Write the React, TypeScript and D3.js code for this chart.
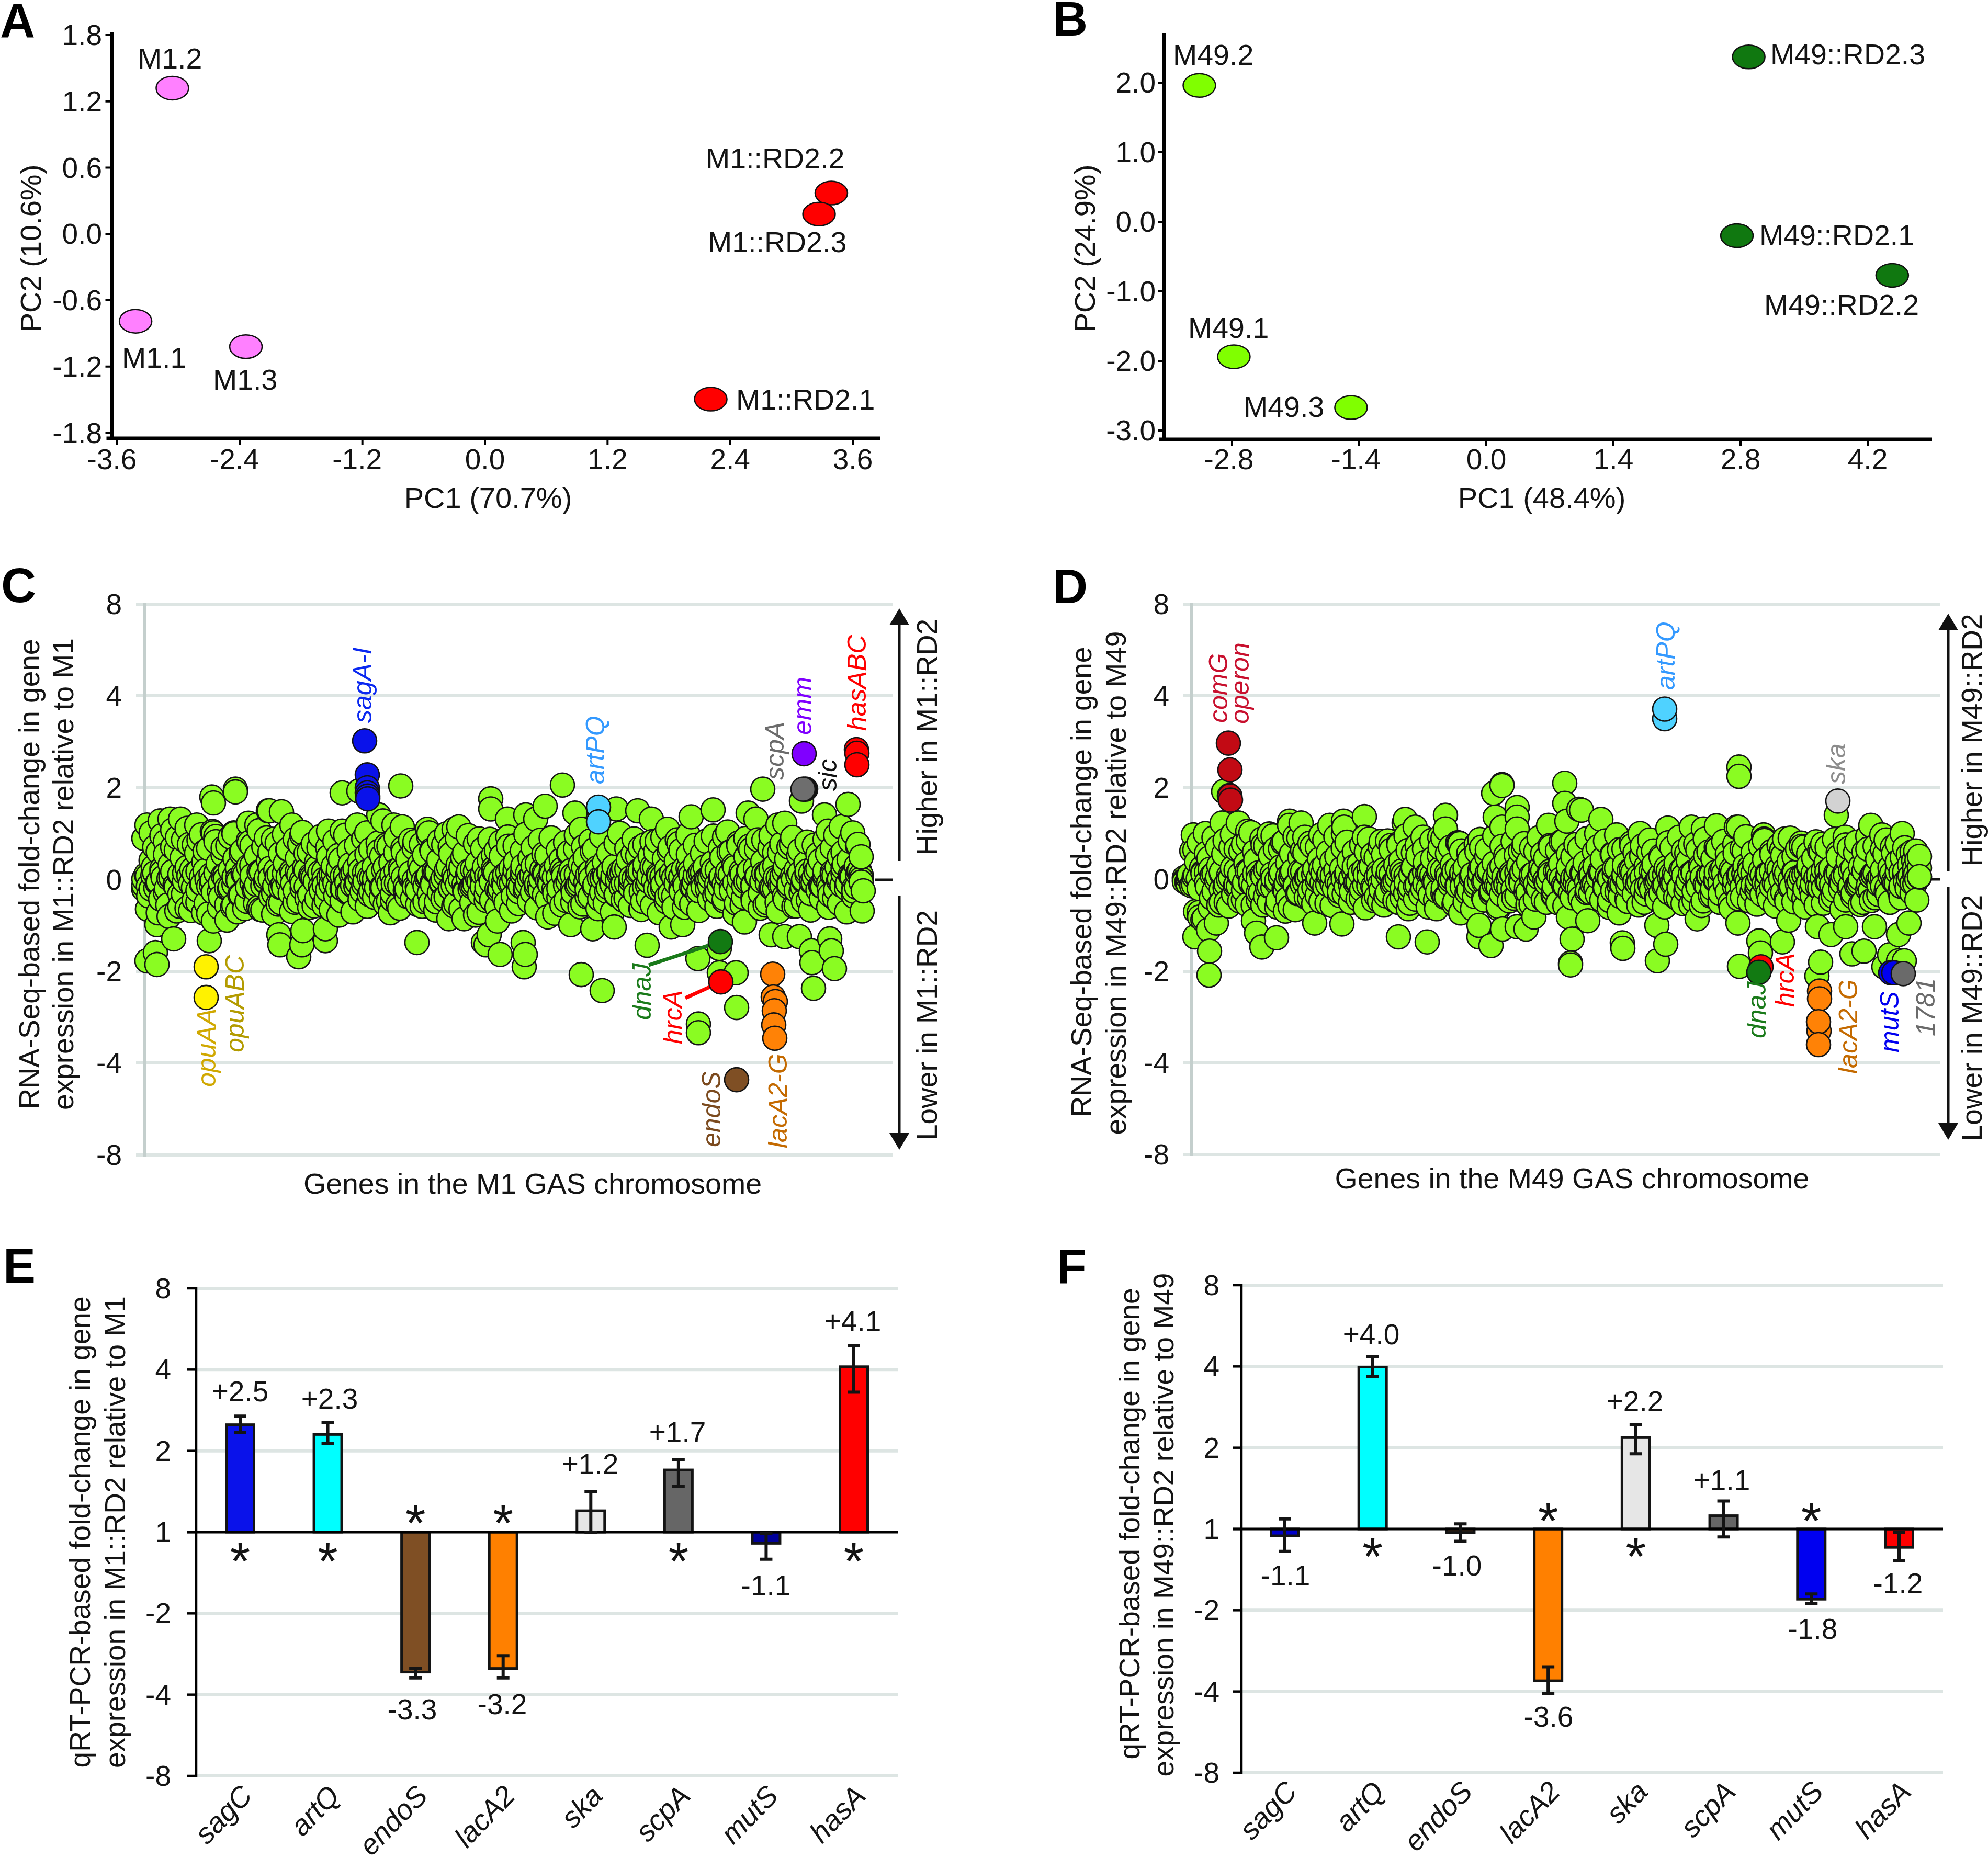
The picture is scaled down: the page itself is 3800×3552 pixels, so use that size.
import React from "react";
import * as d3 from "d3";

// ---------- PCA data (panel A, B) ----------
const pcaANames = ["M1.1", "M1.2", "M1.3", "M1::RD2.1", "M1::RD2.2", "M1::RD2.3"];
const pcaAPc1 = [-3.42, -3.06, -2.34, 2.21, 3.39, 3.27];
const pcaAPc2 = [-0.79, 1.32, -1.02, -1.495, 0.37, 0.18];
const pcaBNames = ["M49.1", "M49.2", "M49.3", "M49::RD2.1", "M49::RD2.2", "M49::RD2.3"];
const pcaBPc1 = [-2.78, -3.16, -1.49, 2.76, 4.47, 2.89];
const pcaBPc2 = [-1.94, 1.96, -2.67, -0.2, -0.77, 2.37];
const ticksAx = [-3.6, -2.4, -1.2, 0, 1.2, 2.4, 3.6];
const ticksAy = [-1.8, -1.2, -0.6, 0, 0.6, 1.2, 1.8];
const ticksBx = [-2.8, -1.4, 0, 1.4, 2.8, 4.2];
const ticksBy = [-3, -2, -1, 0, 1, 2];

// ---------- RNA-Seq data (panel C): band values in chromosome order ----------
const bandC = [
  -0.21,0.12,-0.35,0.42,0.28,-0.18,0.61,-0.42,0.05,0.83,-0.55,0.33,0.71,-0.12,0.92,-0.31,0.48,0.15,-0.62,0.77,
  0.22,-0.44,0.58,0.86,-0.08,0.39,-0.51,0.68,0.11,-0.27,0.94,0.35,-0.38,0.55,0.02,0.74,-0.16,-0.59,0.46,0.25,
  -0.33,0.63,0.09,-0.47,0.81,0.31,-0.22,0.52,-0.6,0.17,0.72,-0.05,0.41,-0.36,0.88,0.2,-0.53,0.57,-0.11,0.36,
  0.66,-0.29,0.13,-0.49,0.47,0.78,-0.19,0.27,-0.4,0.6,0.07,-0.57,0.38,0.7,-0.24,0.18,-0.43,0.5,-0.1,0.3,
  -0.34,0.14,0.44,-0.2,0.08,-0.28,0.33,-0.12,0.24,-0.06,0.4,-0.25,0.16,0.55,-0.32,0.04,0.28,-0.17,0.62,-0.39,
  0.21,0.75,-0.46,0.37,-0.09,0.59,-0.54,0.26,0.69,-0.23,0.45,0.1,-0.41,0.83,-0.15,0.34,-0.58,0.54,0.03,-0.3,
  0.65,0.19,-0.48,0.43,-0.07,0.76,-0.37,0.29,0.56,-0.13,-0.52,0.32,0.01,0.49,-0.26,0.12,-0.2,0.23,-0.09,0.36,
  -0.31,0.06,0.28,-0.16,0.42,-0.44,0.18,0.64,-0.24,0.51,-0.05,-0.5,0.73,0.25,-0.35,0.39,0.09,-0.14,0.3,-0.22,
  0.15,0.47,-0.27,0.02,0.35,-0.11,0.22,-0.33,0.53,-0.04,0.13,-0.19,0.31,-0.38,0.44,0.08,-0.45,0.58,0.2,-0.28,
  0.67,-0.1,0.34,-0.53,0.48,0.11,-0.36,0.61,-0.17,0.26,-0.42,0.04,0.38,-0.25,0.17,-0.07,0.29,-0.32,0.12,-0.15,
  0.24,-0.4,0.43,-0.02,0.57,-0.3,0.19,0.7,-0.47,0.33,-0.12,0.52,-0.56,0.27,0.84,-0.21,0.06,0.46,-0.37,0.63,
  0.14,-0.6,0.41,0.79,-0.26,0.23,-0.43,0.55,0.1,-0.16,0.35,-0.31,0.16,-0.08,0.28,-0.2,0.05,0.37,-0.34,0.21,
  -0.13,0.48,-0.41,0.09,0.6,-0.24,0.32,-0.51,0.74,0.18,-0.38,0.5,-0.03,0.66,-0.46,0.25,0.87,-0.29,0.4,-0.55,
  0.13,0.69,-0.18,0.3,-0.49,0.59,0.07,-0.35,0.45,-0.1,0.77,-0.58,0.22,0.53,-0.27,0.01,0.36,-0.44,0.15,-0.06,
  0.31,-0.22,0.42,-0.15,0.2,0.56,-0.33,0.11,-0.4,0.27,0.5,-0.12,0.34,-0.19,0.44,0.08,-0.25,0.3,0.18,-0.05,
];
const bandC2 = [
  .9,-.64,1.02,.71,-.72,.96,.55,-.8,1.08,.64,-.58,.87,1.12,-.67,.76,-.49,.98,.62,-.74,1.05,
  .83,-.61,.69,-.55,.93,1.0,-.7,.58,-.63,.85,.74,-.52,1.07,-.66,.91,.6,-.75,.8,-.5,.99,
  .67,-.69,.88,-.47,1.03,.57,-.6,.78,-.41,.94,-.56,.7,-.65,.84,.53,-.46,.97,.63,-.7,.75,
  -.43,.89,-.58,.66,-.38,.8,.51,-.53,.73,-.44,.92,-.62,.6,-.36,.86,.69,-.54,.77,-.48,.95,
  .62,-.66,.84,-.42,1.0,.71,-.57,.9,-.64,.58,.96,-.5,.78,-.71,.67,-.45,.88,.54,-.6,.82,
  -.39,.93,-.68,.74,-.52,.63,.99,-.47,.7,-.61,.86,.56,-.43,.91,-.73,.65,-.55,.81,.6,-.49,
  .97,-.59,.72,-.37,.85,.66,-.63,.94,-.51,.58,-.7,.79,1.01,-.44,.68,-.56,.89,.52,-.65,.76,
  -.4,.83,.61,-.72,.92,-.48,.7,-.35,.87,.64,-.6,.98,-.53,.75,-.67,.57,.84,-.42,.95,-.58,
  .69,-.46,1.04,.62,-.74,.8,-.55,.9,.73,-.38,.66,-.62,.86,-.5,.96,.59,-.69,.78,-.43,.71,
  .92,-.57,.64,-.47,.82,-.66,.75,.55,-.41,.88,-.6,.69,.97,-.52,.6,-.7,.84,-.36,.74,.5,
];
const bandC3 = [
  -.12,.08,-.2,.15,-.05,.24,-.28,.03,.18,-.16,.1,-.31,.27,-.08,.13,-.23,.06,.2,-.14,-.02,
  .16,-.26,.09,-.18,.22,-.1,.02,-.33,.12,.29,-.06,-.21,.17,-.13,.05,.25,-.29,.07,-.17,.14,
  -.04,.19,-.24,.11,-.09,.21,-.32,.04,.26,-.15,.01,-.22,.13,-.07,.23,-.19,.1,-.27,.16,-.03,
  .07,-.11,.18,-.25,.02,.12,-.16,.28,-.08,-.3,.2,-.12,.06,-.2,.15,-.01,-.23,.24,-.14,.09,
  -.06,.17,-.28,.03,.22,-.18,.11,-.1,.27,-.24,.05,-.15,.19,-.04,.13,-.31,.08,.25,-.2,.01,
  -.13,.16,-.07,.21,-.26,.1,-.17,.04,.3,-.09,-.22,.14,-.02,.18,-.29,.06,.23,-.12,.09,-.19,
  .12,-.05,.26,-.21,.03,-.14,.2,-.27,.07,.15,-.11,-.33,.17,-.08,.24,-.16,.02,.11,-.25,.19,
  -.03,.28,-.18,.08,-.1,.22,-.3,.05,.13,-.2,-.06,.25,-.15,.1,-.24,.16,.01,-.12,.21,-.28,
  .04,-.09,.18,-.17,.27,-.22,.12,-.04,.2,-.13,.07,-.26,.14,-.07,.23,-.19,.03,-.11,.29,-.16,
  .09,-.23,.15,-.02,.19,-.3,.06,.24,-.14,.11,-.08,.17,-.21,.02,.26,-.12,.1,-.18,.13,-.05,
];
const bandC4 = [
  .02,-.14,.1,-.07,.16,-.19,.05,-.11,.13,-.03,.08,-.17,.18,-.09,.01,-.12,.15,-.06,.11,-.2,
  .06,-.02,.14,-.16,.09,-.1,.19,-.05,.03,-.13,.12,-.18,.07,-.08,.17,-.01,-.15,.1,-.04,.16,
  -.12,.04,.13,-.19,.08,-.06,.11,-.14,.2,-.03,.05,-.1,.15,-.17,.02,.09,-.07,.18,-.13,.06,
  -.16,.12,-.02,.07,-.11,.17,-.05,.1,-.18,.03,.14,-.09,.19,-.12,.01,-.15,.08,-.04,.16,-.2,
  .11,-.06,.04,-.13,.18,-.08,.09,-.16,.02,.13,-.1,.06,-.19,.15,-.03,.1,-.14,.07,-.05,.17,
  -.11,.03,.12,-.17,.08,-.01,.16,-.07,.05,-.12,.19,-.15,.09,-.02,.11,-.18,.04,.14,-.08,.06,
  -.13,.18,-.04,.1,-.16,.02,.15,-.09,.07,-.2,.12,-.06,.03,-.14,.17,-.1,.08,-.03,.13,-.17,
  .05,-.11,.16,-.07,.01,.09,-.15,.12,-.05,.18,-.12,.04,-.19,.1,-.02,.14,-.08,.06,-.16,.11,
];
// Outer dots of panel C: [chromosome order, value]
const upperC: [number, number][] = [
  [6,1.19],[31,1.28],[50,1.32],[70,1.32],[101,1.19],[130,1.8],[133,1.67],[133,1.02],[172,1.02],[175,1.97],[175,1.91],
  [200,1.23],[216,1.19],[238,1.5],[240,1.5],[263,1.48],[283,1.19],[302,0.97],[353,1.06],[379,1.89],[379,1.06],[408,1.19],
  [411,1.93],[426,1.02],[449,1.41],[457,1.28],[478,1.19],[491,2.04],[494,1.15],[542,1.1],[545,1.02],[593,1.1],[602,1.15],
  [641,0.89],[663,1.76],[663,1.54],[695,1.32],[730,1.41],[749,1.32],[767,1.6],[800,2.06],[824,1.45],[836,1.1],[903,1.54],
  [944,1.5],[970,1.32],[1001,1.1],[1046,1.37],[1088,1.52],[1110,0.93],[1155,1.45],[1170,1.32],[1183,1.97],[1212,1.19],
  [1225,1.23],[1257,1.71],[1301,1.41],[1308,1.06],[1333,1.15],[1346,1.64],[1355,1.02],[1365,0.77],[1368,0.2],[1371,0.02],
];
const lowerC: [number, number][] = [
  [6,-1.77],[25,-1.85],[22,-1.59],[25,-0.98],[57,-1.29],[63,-0.68],[114,-0.72],[125,-1.33],[133,-0.9],[159,-0.88],[172,-0.55],
  [223,-0.65],[258,-1.2],[260,-1.42],[296,-1.68],[304,-1.11],[302,-1.42],[347,-1.33],[347,-1.07],[373,-0.77],[427,-0.55],
  [471,-0.72],[522,-1.37],[548,-0.5],[583,-0.85],[612,-0.85],[634,-0.77],[649,-1.37],[654,-1.42],[660,-1.2],[676,-0.9],
  [681,-1.63],[725,-1.37],[727,-1.9],[729,-1.63],[772,-0.81],[816,-0.98],[836,-2.07],[858,-1.07],[876,-2.42],[899,-1.03],
  [950,-0.63],[962,-1.43],[1008,-1.03],[1030,-0.98],[1059,-1.72],[1060,-3.15],[1060,-3.34],[1100,-1.5],[1100,-2.03],
  [1132,-2.03],[1133,-2.79],[1148,-0.92],[1199,-1.2],[1225,-1.24],[1253,-1.24],[1276,-1.55],[1277,-1.81],[1280,-2.37],
  [1311,-1.29],[1314,-1.55],[1320,-1.94],[1373,-0.68],[1375,-0.24],
];
const markedCNames = ["sagA-I","opuAA","opuABC","artPQ","emm","sic","scpA","hasABC","dnaJ","hrcA","lacA2-G","endoS"];
const markedCGenes = [
  [422,427,427,427,428,428],[119],[119],[869,869],[1262],[1265],[1260],[1362,1363,1363],[1102],[1103],
  [1202,1203,1207,1205,1204,1206],[1133],
];
const markedCValues = [
  [3.02,2.28,2.0,1.89,1.82,1.76],[-1.9],[-2.57],[1.58,1.26],[2.74],[1.97],[1.97],[2.83,2.75,2.5],[-1.35],[-2.23],
  [-2.06,-2.56,-2.66,-2.86,-3.17,-3.46],[-4.73],
];

// ---------- RNA-Seq data (panel D) ----------
const bandD = [
  0.02,-0.06,0.1,-0.12,0.05,0.38,-0.72,0.25,-0.85,0.16,0.46,-0.4,0.12,-0.95,0.3,-0.22,0.55,-0.5,0.08,0.7,
  -0.33,0.2,-0.15,0.62,-0.44,0.34,0.84,-0.09,-0.56,0.42,0.14,-0.28,0.75,-0.37,0.26,0.52,-0.18,0.66,-0.47,0.06,
  0.8,-0.25,0.36,-0.6,0.18,0.93,-0.31,0.48,-0.12,0.58,0.03,-0.42,0.72,0.22,-0.35,0.44,-0.07,0.3,-0.52,0.12,
  0.39,-0.2,0.5,-0.1,0.24,-0.32,0.09,0.41,-0.27,0.15,-0.05,0.33,-0.4,0.2,0.6,-0.14,0.28,-0.46,0.47,0.07,
  -0.23,0.54,-0.36,0.17,0.74,-0.08,0.31,-0.5,0.4,0.11,-0.3,0.63,-0.17,0.25,-0.43,0.52,0.04,-0.21,0.37,0.13,
  -0.34,0.45,0.01,-0.26,0.69,0.19,-0.39,0.56,-0.11,0.32,-0.48,0.23,0.78,-0.16,0.08,-0.29,0.43,0.1,-0.37,0.6,
  -0.04,0.27,-0.45,0.5,0.16,-0.24,0.35,-0.13,0.21,-0.33,0.06,0.42,-0.19,0.14,-0.41,0.53,0.29,-0.09,0.67,-0.28,
  0.38,-0.54,0.12,0.61,-0.2,0.26,-0.44,0.46,-0.02,0.71,-0.35,0.18,-0.51,0.34,0.83,-0.15,0.09,-0.3,0.49,-0.07,
  0.22,-0.4,0.13,0.36,-0.23,0.05,-0.12,0.28,-0.34,0.17,0.44,-0.18,0.08,-0.46,0.55,0.24,-0.27,0.65,-0.1,0.31,
  -0.42,0.19,0.73,-0.32,0.4,-0.06,0.51,-0.5,0.15,0.59,-0.22,0.33,-0.38,0.03,0.47,-0.14,0.25,-0.29,0.11,-0.08,
  0.35,-0.43,0.2,0.62,-0.25,0.41,-0.55,0.14,0.77,-0.17,0.3,-0.47,0.52,0.07,-0.36,0.45,-0.03,0.68,-0.31,0.23,
  -0.11,0.38,-0.52,0.16,0.57,-0.2,0.1,-0.39,0.29,-0.05,0.18,-0.26,0.34,-0.13,0.06,-0.33,0.43,0.12,-0.44,0.54,
  -0.09,0.27,-0.35,0.64,0.2,-0.48,0.39,-0.16,0.5,0.02,-0.28,0.72,-0.41,0.15,0.31,-0.23,0.46,-0.56,0.09,0.6,
  -0.18,0.36,-0.06,0.24,-0.37,0.13,0.49,-0.21,0.07,-0.45,0.4,0.19,-0.3,0.58,-0.12,0.28,-0.5,0.33,0.66,-0.24,
  0.11,-0.4,0.44,0.05,-0.15,0.55,-0.32,0.26,0.7,-0.08,0.38,-0.27,0.48,0.17,-0.19,0.32,0.6,0.1,0.42,0.25,
];
const bandD2 = [
  .04,-.1,.62,-.7,.8,-.88,.57,-.62,.91,.7,-.5,.85,-.58,.98,.66,-.47,.77,-.55,1.02,.6,
  -.44,.88,.73,-.51,.95,-.6,.67,.82,-.42,.56,-.66,.9,.63,-.39,.79,-.53,.7,-.48,.86,.59,
  -.57,.93,-.35,.68,.81,-.5,.6,-.43,.75,-.62,.88,.54,-.37,.71,-.56,.84,.64,-.46,.78,-.4,
  .95,-.52,.58,.74,-.33,.66,-.6,.85,-.45,.53,.9,-.38,.7,-.54,.8,.62,-.49,.57,-.64,.76,
  .87,-.41,.65,-.31,.94,-.59,.72,.52,-.47,.83,-.36,.61,.78,-.55,.69,-.43,.91,.56,-.5,.74,
  -.34,.63,.82,-.58,.55,-.4,.76,.68,-.52,.89,-.29,.6,.71,-.45,.84,-.61,.54,.97,-.37,.66,
  -.48,.79,.58,-.56,.73,-.32,.86,.62,-.44,.51,-.6,.8,.69,-.39,.92,-.53,.57,.75,-.46,.64,
  -.57,.88,.6,-.35,.7,-.5,.83,.55,-.63,.77,-.42,.67,.93,-.47,.59,-.54,.72,.85,-.3,.61,
  -.58,.74,.52,-.41,.9,-.49,.66,.79,-.6,.56,-.36,.82,.63,-.52,.7,-.44,.87,.58,-.65,.75,
  .68,-.38,.81,-.55,.6,.94,-.46,.72,-.33,.65,.86,-.5,.57,.78,-.4,.69,.54,-.3,.62,.5,
];
const bandD3 = [
  -.02,.03,-.14,.09,-.2,.16,-.07,.22,-.26,.05,.12,-.18,-.01,.25,-.11,.07,-.23,.18,-.05,.13,
  -.29,.1,.2,-.15,.02,-.08,.27,-.21,.06,.14,-.12,-.3,.17,.04,-.24,.11,-.03,.23,-.17,.08,
  -.09,.19,-.27,.01,.15,-.13,.28,-.06,-.22,.1,.24,-.16,.05,-.1,.21,-.28,.12,-.04,.17,-.19,
  .07,-.25,.26,-.12,.03,.16,-.2,.09,-.07,.22,-.31,.13,-.02,.18,-.15,.06,.25,-.23,.11,-.09,
  .2,-.05,.14,-.26,.02,-.17,.29,-.11,.08,-.21,.15,-.03,.23,-.28,.1,-.13,.04,.19,-.08,.12,
  -.24,.17,.01,-.16,.27,-.06,.09,-.2,.13,-.29,.21,-.1,.05,.16,-.18,.03,-.25,.24,-.07,.11,
  -.14,.2,-.04,.07,-.22,.28,-.12,.15,-.02,-.3,.1,.18,-.09,.06,-.19,.23,-.15,.12,-.26,.02,
  .25,-.11,.08,-.2,.16,-.06,.13,-.27,.21,-.03,.09,-.17,.04,.26,-.13,-.23,.19,-.08,.11,-.16,
  .05,.22,-.28,.14,-.01,.17,-.12,.07,-.21,.27,-.1,.03,-.18,.2,-.05,.12,-.24,.15,-.07,.09,
  -.19,.24,-.14,.01,.18,-.22,.06,.13,-.11,.21,-.26,.08,-.04,.16,-.15,.1,.02,-.08,.12,.05,
];
const bandD4 = [
  -.05,.07,-.12,.02,.13,-.17,.09,-.03,.16,-.1,.04,-.15,.11,-.07,.18,-.13,.01,.06,-.19,.12,
  -.02,.15,-.09,.05,-.14,.17,-.06,.1,-.18,.03,.14,-.11,.08,-.04,.19,-.16,.02,-.08,.13,-.12,
  .06,-.2,.16,-.01,.09,-.13,.04,.18,-.07,.11,-.15,.03,-.1,.14,-.05,.17,-.19,.07,.01,-.12,
  .15,-.08,.05,-.16,.12,-.03,.19,-.11,.08,-.14,.02,.1,-.06,.16,-.18,.04,-.09,.13,-.02,.17,
  -.15,.07,-.12,.11,.03,-.17,.14,-.05,.09,-.2,.18,-.08,.01,.12,-.13,.06,-.03,.15,-.1,.04,
  -.16,.19,-.07,.1,-.12,.02,.13,-.18,.08,-.04,.16,-.11,.05,-.14,.11,-.01,.17,-.09,.07,-.15,
  .03,.12,-.19,.14,-.06,.09,-.1,.18,-.13,.01,.06,-.17,.15,-.04,.1,-.08,.13,-.16,.02,.17,
  -.11,.08,-.03,.16,-.14,.05,-.07,.19,-.12,.1,-.02,.04,-.18,.13,-.09,.15,-.05,.07,-.1,.06,
];
const upperD: [number, number][] = [
  [17,0.97],[20,0.64],[40,1.0],[72,1.23],[75,1.92],[86,1.83],[103,1.23],[121,1.05],[162,0.99],[201,1.27],[201,1.18],[223,1.23],
  [230,0.92],[261,0.97],[278,1.18],[304,1.27],[305,1.14],[304,1.0],[344,1.37],[344,0.92],[376,0.83],[410,0.75],[422,1.31],
  [420,1.23],[441,1.14],[456,0.92],[488,0.92],[499,1.4],[499,1.1],[525,0.79],[568,0.7],[591,1.88],[607,2.07],[607,2.05],
  [594,1.36],[607,1.14],[636,1.57],[636,1.36],[636,1.1],[696,1.18],[727,2.1],[727,1.66],[731,1.27],[754,1.53],[759,1.51],
  [796,1.31],[788,1.0],[871,1.0],[924,1.12],[969,1.14],[992,1.1],[1017,1.17],[1055,1.14],[1059,1.14],[1070,0.62],
  [1060,2.45],[1060,2.25],[1107,0.97],[1108,0.88],[1147,0.88],[1184,0.7],[1220,0.77],[1246,1.4],[1263,0.92],[1312,1.18],
  [1333,0.97],[1372,1.0],[1394,0.4],[1396,0.25],[1400,0.0],
];
const lowerD: [number, number][] = [
  [47,-2.08],[48,-1.56],[46,-1.1],[20,-1.25],[29,-0.82],[66,-0.56],[138,-1.17],[132,-0.9],[148,-1.47],[176,-1.27],[150,-0.56],
  [193,-0.69],[249,-0.95],[301,-0.97],[373,-0.47],[409,-1.25],[464,-1.36],[428,-0.64],[482,-0.64],[528,-0.73],[563,-1.25],
  [586,-1.44],[608,-1.08],[600,-0.64],[563,-1.0],[636,-1.03],[653,-1.08],[668,-0.82],[734,-0.82],[741,-1.3],[738,-1.82],
  [738,-1.86],[837,-1.38],[838,-1.5],[771,-0.9],[831,-0.73],[903,-1.0],[920,-1.41],[904,-1.77],[980,-0.86],[1058,-0.95],
  [1061,-1.89],[1101,-1.6],[1098,-1.34],[1143,-1.36],[1155,-0.89],[1210,-1.03],[1236,-1.2],[1216,-1.8],[1209,-2.1],
  [1264,-1.03],[1276,-1.62],[1299,-1.56],[1319,-1.03],[1337,-1.9],[1365,-1.2],[1348,-1.64],[1376,-1.77],[1365,-1.77],
  [1385,-0.95],[1400,-0.45],
];
const markedDNames = ["comG","artPQ","ska","hrcA","dnaJ","lacA2-G","mutS","1781"];
const markedDGenes = [[84,87,87,88],[918,918],[1249],[1102],[1098],[1214,1214,1213,1212,1212],[1350,1356],[1374]];
const markedDValues = [[2.97,2.39,1.82,1.73],[3.5,3.71],[1.71],[-1.9],[-2.02],[-2.43,-2.6,-3.3,-3.1,-3.6],[-2.03,-2.03],[-2.05]];

// ---------- qRT-PCR data (panel E, F) ----------
const geneNames = ["sagC","artQ","endoS","lacA2","ska","scpA","mutS","hasA"];
const foldE = [2.5,2.3,-3.3,-3.2,1.2,1.7,-1.1,4.1];
const errHiE = [2.69,2.54,-3.2,-2.87,1.41,1.86,-1.01,4.91];
const errLoE = [2.34,2.13,-3.47,-3.47,1.0,1.48,-1.26,3.3];
const foldLabelsE = ["+2.5","+2.3","-3.3","-3.2","+1.2","+1.7","-1.1","+4.1"];
const signifE = [1,1,1,1,0,1,0,1];
const foldF = [-1.06,3.98,-1.03,-3.65,2.18,1.12,-1.82,-1.17];
const errHiF = [1.09,4.34,1.045,-3.24,2.44,1.27,-1.74,-1.03];
const errLoF = [-1.21,3.67,-1.11,-4.08,1.9,-1.07,-1.89,-1.31];
const foldLabelsF = ["-1.1","+4.0","-1.0","-3.6","+2.2","+1.1","-1.8","-1.2"];
const signifF = [0,1,0,1,1,0,1,0];
const foldTicks = [8,4,2,1,-2,-4,-8];
const seqTicks = [8,4,2,0,-2,-4,-8];

// ---------- styles ----------
const FONT = "'Liberation Sans', Arial, sans-serif";
const GRID = "#dde5e3";
const AXIS_GREY = "#c4cfcd";
const INK = "#141414";
const DOT = "#8afc22";
const barColorsE = ["#0a12ea","#00ffff","#7f4f24","#ff8000","#e6e6e6","#666666","#000099","#ff0000"];
const barColorsF = ["#0000c8","#00ffff","#7f4f24","#ff8000","#e6e6e6","#666666","#0000f0","#ff0000"];
const markedCFill: Record<string,string> = {"sagA-I":"#0a12ea",opuAA:"#fff200",opuABC:"#fff200",artPQ:"#4fd2ff",emm:"#8000ff",sic:"#111111",scpA:"#6e6e6e",hasABC:"#ff0000",dnaJ:"#127a12",hrcA:"#ff0000","lacA2-G":"#ff8206",endoS:"#7f4f24"};
const markedDFill: Record<string,string> = {comG:"#c20a14",artPQ:"#4fd2ff",ska:"#d2d2d2",hrcA:"#ff0000",dnaJ:"#127a12","lacA2-G":"#ff8206",mutS:"#0000f0","1781":"#6a6a6a"};

type V = {t:string,x:number,y:number,c:string};
const labelsC: V[] = [
  {t:"sagA-I",x:710,y:1382,c:"#0a28f0"},{t:"opuAA",x:412,y:2078,c:"#d0a800"},{t:"opuABC",x:466,y:2012,c:"#b39b00"},
  {t:"artPQ",x:1155,y:1499,c:"#3399ff"},{t:"scpA",x:1498,y:1491,c:"#6b6b6b"},{t:"emm",x:1551,y:1405,c:"#7f00ff"},
  {t:"sic",x:1599,y:1512,c:"#111111"},{t:"hasABC",x:1655,y:1397,c:"#ff0000"},{t:"dnaJ",x:1244,y:1950,c:"#1a7a1a"},
  {t:"hrcA",x:1303,y:1996,c:"#ff0000"},{t:"endoS",x:1377,y:2193,c:"#7b4a1e"},{t:"lacA2-G",x:1504,y:2195,c:"#c46a00"},
];
const labelsD: V[] = [
  {t:"comG",x:2346,y:1382,c:"#c8102e"},{t:"operon",x:2387,y:1384,c:"#c8102e"},{t:"artPQ",x:3201,y:1319,c:"#3399ff"},
  {t:"ska",x:3527,y:1499,c:"#8c8c8c"},{t:"dnaJ",x:3375,y:1985,c:"#1a7a1a"},{t:"hrcA",x:3429,y:1925,c:"#ff0000"},
  {t:"lacA2-G",x:3550,y:2053,c:"#c46a00"},{t:"mutS",x:3629,y:2012,c:"#0000f0"},{t:"1781",x:3698,y:1981,c:"#6b6b6b"},
];
const pcaLabelA: Record<string,[number,number]> = {"M1.1":[233,703],"M1.2":[263,131],"M1.3":[407,745],"M1::RD2.1":[1407,783],"M1::RD2.2":[1349,322],"M1::RD2.3":[1353,482]};
const pcaLabelB: Record<string,[number,number]> = {"M49.1":[2271,646],"M49.2":[2242,124],"M49.3":[2377,797],"M49::RD2.1":[3363,469],"M49::RD2.2":[3372,602],"M49::RD2.3":[3384,123]};
const textEBase = [2679,2693,3287,3277,2818,2757,3050,2545];
const textEX = [459,630,788,960,1128,1295,1464,1630];
const textFBase = [3031,2570,3012,3301,2698,2849,3133,3046];
const textFX = [2457,2621,2785,2960,3125,3291,3465,3628];

const Txt = (p:any) => <text fontFamily={FONT} fontSize={55} fill={INK} {...p}>{p.children}</text>;
const VText = ({x,y,anchor="middle",...rest}:any) => (
  <text fontFamily={FONT} fontSize={55} fill={INK} textAnchor={anchor} transform={`translate(${x},${y}) rotate(-90)`} {...rest}>{rest.children}</text>
);

function Pca({names,pc1,pc2,colors,labels,xTicks,yTicks,xs,ys,axis,xTitle,yTitle,negDx,fmtY}:any){
  return <g>
    <path d={`M${axis.x},${axis.top}V${axis.bottom+4}M${axis.x-10},${axis.bottom}H${axis.right}`} stroke="#000" strokeWidth={7} fill="none"/>
    {yTicks.map((t:number)=><g key={t}>
      <line x1={axis.x-12} x2={axis.x} y1={ys(t)} y2={ys(t)} stroke="#000" strokeWidth={4}/>
      <Txt x={axis.labelX} y={ys(t)+19} textAnchor="end" fontSize={55}>{fmtY(t)}</Txt>
    </g>)}
    {xTicks.map((t:number)=><g key={t}>
      <line x1={xs(t)} x2={xs(t)} y1={axis.bottom} y2={axis.bottom+13} stroke="#000" strokeWidth={4}/>
      <Txt x={xs(t)+(t<0?negDx:0)} y={897} textAnchor="middle" fontSize={55}>{t.toFixed(1)}</Txt>
    </g>)}
    {names.map((n:string,i:number)=><ellipse key={n} cx={xs(pc1[i])} cy={ys(pc2[i])} rx={31} ry={22.5} fill={colors(i)} stroke="#111" strokeWidth={2.5}/>)}
    {names.map((n:string)=><Txt key={n} x={labels[n][0]} y={labels[n][1]} fontSize={55.5}>{n}</Txt>)}
    <Txt x={axis.titleX} y={971} textAnchor="middle" fontSize={56}>{xTitle}</Txt>
    <VText x={axis.titleY} y={475} fontSize={56}>{yTitle}</VText>
  </g>;
}

function SeqPanel({bands,upper,lower,names,genes,values,fills,labels,g}:any){
  const y = d3.scaleLinear().domain([-8,-4,-2,0,2,4,8]).range(g.ticksY);
  const x = d3.scaleLinear().domain([0,g.maxGene]).range([g.x0,g.x1]);
  const pts: [number,number][] = [...upper,...lower];
  bands.forEach((b:number[])=>{
    const step = g.maxGene/(b.length-1);
    b.forEach((v,i)=>pts.push([i*step,v]));
  });
  pts.sort((a,b)=>a[0]-b[0]);
  const top = g.ticksY[6], bot = g.ticksY[0];
  const marks:any[] = [];
  names.forEach((n:string,i:number)=>genes[i].forEach((ge:number,j:number)=>marks.push({n,ge,v:values[i][j],k:`${n}${j}`})));
  const dnaJ = marks.find(m=>m.n==="dnaJ"), hrcA = marks.find(m=>m.n==="hrcA");
  return <g>
    {seqTicks.map(t=><g key={t}>
      {t!==0 && <line x1={g.gridL} x2={g.gridR} y1={y(t)} y2={y(t)} stroke={GRID} strokeWidth={6}/>}
      <Txt x={g.labelX} y={y(t)+19} textAnchor="end" fontSize={55}>{t}</Txt>
    </g>)}
    <line x1={g.axisX} x2={g.axisX} y1={top-3} y2={bot+3} stroke={AXIS_GREY} strokeWidth={6}/>
    <line x1={g.zeroL} x2={g.gridR} y1={y(0)} y2={y(0)} stroke={INK} strokeWidth={5}/>
    <g fill={DOT} stroke={INK} strokeWidth={2.6}>
      {pts.map((p,i)=><circle key={i} cx={x(p[0])} cy={y(p[1])} r={23}/>)}
    </g>
    {g.leaders && <g strokeWidth={7}>
      <line x1={1240} y1={1845} x2={x(dnaJ.ge)} y2={y(dnaJ.v)} stroke="#1a7a1a"/>
      <line x1={1310} y1={1908} x2={x(hrcA.ge)} y2={y(hrcA.v)} stroke="#ff0000"/>
    </g>}
    <g stroke={INK} strokeWidth={2.6}>
      {marks.map(m=><circle key={m.k} cx={x(m.ge)} cy={y(m.v)} r={23} fill={fills[m.n]}/>)}
    </g>
    {labels.map((l:V)=><VText key={l.t} x={l.x} y={l.y} anchor="start" fontSize={50} fontStyle="italic" fill={l.c}>{l.t}</VText>)}
    <path d={`M${g.arrowX},${g.upTip+30}V${g.upEnd}M${g.arrowX},${g.dnStart}V${g.dnTip-30}`} stroke="#111" strokeWidth={5} fill="none"/>
    <path d={`M${g.arrowX},${g.upTip}l-19,32h38zM${g.arrowX},${g.dnTip}l-19,-32h38z`} fill="#111"/>
    <VText x={g.sideX} y={g.hiY}>{g.hi}</VText>
    <VText x={g.sideX} y={g.loY}>{g.lo}</VText>
    <VText x={g.t1X} y={g.t1Y}>{g.t1}</VText>
    <VText x={g.t2X} y={g.t2Y}>{g.t2}</VText>
    <Txt x={g.xtX} y={g.xtY} textAnchor="middle" fontSize={55.5}>{g.xt}</Txt>
  </g>;
}

function BarPanel({fold,hi,lo,labels,signif,colors,g,tx,tb}:any){
  const sl = (v:number)=>Math.sign(v)*Math.log2(Math.abs(v));
  const ly = d3.scaleLinear().domain([-3,3]).range([g.y8n,g.y8p]);
  const y = (v:number)=>ly(sl(v));
  const band = d3.scalePoint<string>().domain(geneNames).range([g.c0,g.c1]);
  const bw = 53, capw = 24;
  return <g>
    {foldTicks.map(t=><g key={t}>
      {t!==1 && <line x1={g.axisX} x2={g.right} y1={y(t)} y2={y(t)} stroke={GRID} strokeWidth={6}/>}
      <line x1={g.axisX-17} x2={g.axisX} y1={y(t)} y2={y(t)} stroke="#000" strokeWidth={4.5}/>
      <Txt x={g.labelX} y={y(t)+19} textAnchor="end" fontSize={55}>{t}</Txt>
    </g>)}
    {geneNames.map((n,i)=>{
      const cx = band(n)!, y0 = y(1), y1 = y(fold[i]);
      return <rect key={n} x={cx-bw/2} width={bw} y={Math.min(y0,y1)} height={Math.abs(y1-y0)} fill={colors[i]} stroke={INK} strokeWidth={5}/>;
    })}
    <line x1={g.axisX-17} x2={g.right} y1={y(1)} y2={y(1)} stroke="#000" strokeWidth={5}/>
    <line x1={g.axisX} x2={g.axisX} y1={y(8)-3} y2={y(-8)+3} stroke="#000" strokeWidth={4.5}/>
    {geneNames.map((n,i)=>{
      const cx = band(n)!;
      return <path key={n} d={`M${cx},${y(hi[i])}V${y(lo[i])}M${cx-capw/2},${y(hi[i])}h${capw}M${cx-capw/2},${y(lo[i])}h${capw}`} stroke={INK} strokeWidth={6} fill="none"/>;
    })}
    {geneNames.map((n,i)=><Txt key={n} x={tx[i]} y={tb[i]} textAnchor="middle" fontSize={55}>{labels[i]}</Txt>)}
    {geneNames.map((n,i)=>signif[i]?<Txt key={n} x={band(n)!} y={fold[i]>0?g.starLow+58:g.starHigh+58} textAnchor="middle" fontSize={100}>*</Txt>:null)}
    {geneNames.map((n)=><Txt key={n} textAnchor="end" fontSize={55} fontStyle="italic" transform={`translate(${band(n)!+26},${g.catY}) rotate(-46)`}>{n}</Txt>)}
    <VText x={g.t1X} y={g.t1Y}>{g.t1}</VText>
    <VText x={g.t2X} y={g.t2Y}>{g.t2}</VText>
  </g>;
}

const Letter = ({t,x,y}:any)=><text fontFamily={FONT} fontWeight="bold" fontSize={93} fill="#000" x={x} y={y}>{t}</text>;

export default function App(){
  const ax = d3.scaleLinear().domain([-3.6,3.6]).range([224,1630]);
  const ay = d3.scaleLinear().domain([-1.8,1.8]).range([827.5,67]);
  const bx = d3.scaleLinear().domain([-2.8,4.2]).range([2355,3570]);
  const by = d3.scaleLinear().domain([-3,2]).range([823,158]);
  const pinkRed = (i:number)=>i<3?"#ff80ff":"#ff0000";
  const limeDark = (i:number)=>i<3?"#80ff00":"#107810";
  return (
    <svg width={3800} height={3552} style={{position:"absolute",left:0,top:0,background:"#fff"}}>
      <rect width={3800} height={3552} fill="#fff"/>
      <Letter t="A" x={0} y={71}/><Letter t="B" x={2012} y={68}/><Letter t="C" x={2} y={1151}/>
      <Letter t="D" x={2012} y={1153}/><Letter t="E" x={6} y={2452}/><Letter t="F" x={2020} y={2453}/>
      <Pca names={pcaANames} pc1={pcaAPc1} pc2={pcaAPc2} colors={pinkRed} labels={pcaLabelA} xTicks={ticksAx} yTicks={ticksAy}
        xs={ax} ys={ay} negDx={-10} fmtY={(t:number)=>t.toFixed(1)}
        axis={{x:213.5,top:62,bottom:838,right:1682,labelX:195,titleX:933,titleY:78}} xTitle="PC1 (70.7%)" yTitle="PC2 (10.6%)"/>
      <Pca names={pcaBNames} pc1={pcaBPc1} pc2={pcaBPc2} colors={limeDark} labels={pcaLabelB} xTicks={ticksBx} yTicks={ticksBy}
        xs={bx} ys={by} negDx={-6} fmtY={(t:number)=>t.toFixed(1)}
        axis={{x:2225,top:64,bottom:840,right:3693,labelX:2209,titleX:2947,titleY:2093}} xTitle="PC1 (48.4%)" yTitle="PC2 (24.9%)"/>
      <SeqPanel bands={[bandC,bandC2,bandC3,bandC4]} upper={upperC} lower={lowerC} names={markedCNames} genes={markedCGenes} values={markedCValues} fills={markedCFill} labels={labelsC}
        g={{ticksY:[2208,2032,1857,1682,1506,1330,1155],maxGene:1371,x0:275,x1:1646,gridL:260,gridR:1707,axisX:276,labelX:233,zeroL:1672,leaders:true,
          arrowX:1719,upTip:1163,upEnd:1646,dnStart:1713,dnTip:2198,sideX:1791,hiY:1409,loY:1960,hi:"Higher in M1::RD2",lo:"Lower in M1::RD2",
          t1X:75,t1Y:1671,t2X:140,t2Y:1671,t1:"RNA-Seq-based fold-change in gene",t2:"expression in M1::RD2 relative to M1",xtX:1018,xtY:2282,xt:"Genes in the M1 GAS chromosome"}}/>
      <SeqPanel bands={[bandD,bandD2,bandD3,bandD4]} upper={upperD} lower={lowerD} names={markedDNames} genes={markedDGenes} values={markedDValues} fills={markedDFill} labels={labelsD}
        g={{ticksY:[2207,2032,1857,1681,1506,1330,1155],maxGene:1405,x0:2264,x1:3669,gridL:2261,gridR:3709,axisX:2278,labelX:2235,zeroL:3692,leaders:false,
          arrowX:3724,upTip:1173,upEnd:1665,dnStart:1696,dnTip:2179,sideX:3788,hiY:1415,loY:1946,hi:"Higher in M49::RD2",lo:"Lower in M49::RD2",
          t1X:2086,t1Y:1686,t2X:2152,t2Y:1688,t1:"RNA-Seq-based fold-change in gene",t2:"expression in M49::RD2 relative to M49",xtX:3005,xtY:2272,xt:"Genes in the M49 GAS chromosome"}}/>
      <BarPanel fold={foldE} hi={errHiE} lo={errLoE} labels={foldLabelsE} signif={signifE} colors={barColorsE} tx={textEX} tb={textEBase}
        g={{y8p:2463,y8n:3395,axisX:375,right:1716,labelX:327,c0:459,c1:1632,starLow:2961,starHigh:2888,catY:3436,
          t1X:172,t1Y:2929,t2X:239,t2Y:2929,t1:"qRT-PCR-based fold-change in gene",t2:"expression in M1::RD2 relative to M1"}}/>
      <BarPanel fold={foldF} hi={errHiF} lo={errLoF} labels={foldLabelsF} signif={signifF} colors={barColorsF} tx={textFX} tb={textFBase}
        g={{y8p:2457,y8n:3389,axisX:2373,right:3714,labelX:2331,c0:2456,c1:3630,starLow:2952,starHigh:2884,catY:3428,
          t1X:2178,t1Y:2913,t2X:2243,t2Y:2915,t1:"qRT-PCR-based fold-change in gene",t2:"expression in M49::RD2 relative to M49"}}/>
    </svg>
  );
}
